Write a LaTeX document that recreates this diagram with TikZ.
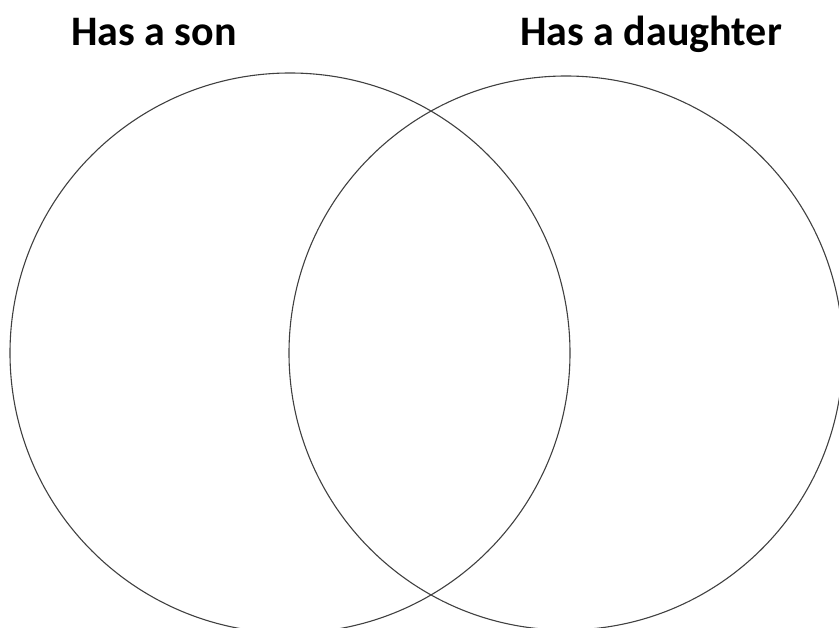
\documentclass[tikz,border=0pt]{standalone}
\usepackage{fontspec}
\setmainfont{Carlito}
\usetikzlibrary{positioning}

\begin{document}
\begin{tikzpicture}[
    x=1pt, y=-1pt,
    set/.style={
        draw=black!75,
        circle,
        line width=1.1pt,
        inner sep=0pt
    },
    title/.style={
        font=\fontsize{42}{48}\selectfont\bfseries,
        inner sep=0pt,
        anchor=base
    }
]

\useasboundingbox (0,0) rectangle (839,628);

\node[set, minimum size=560pt] (son) at (290,353) {};
\node[set, minimum size=554pt] (daughter) at (566,353) {};

\node[title] (sonlabel) at (154,46) {Has a son};
\node[title] (daughterlabel) at (651,46) {Has a daughter};

\end{tikzpicture}
\end{document}
